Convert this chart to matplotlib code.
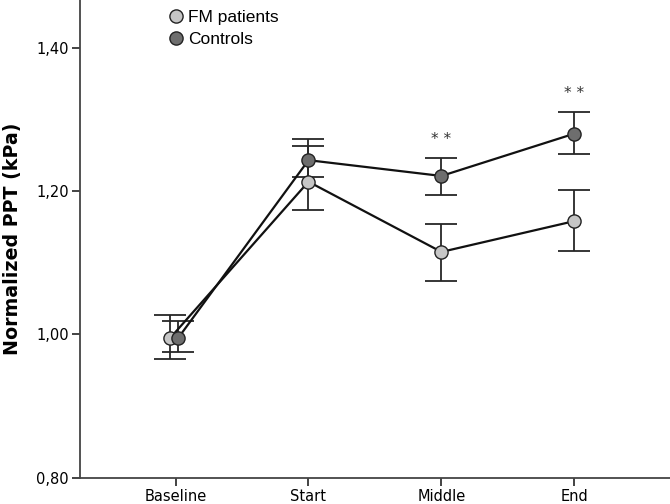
import matplotlib
matplotlib.use("Agg")
import matplotlib.pyplot as plt
from matplotlib.lines import Line2D
import numpy as np

categories = ["Baseline", "Start", "Middle", "End"]
fm_mean = [0.995, 1.213, 1.115, 1.158]
fm_low = [0.965, 1.174, 1.075, 1.116]
fm_high = [1.027, 1.263, 1.154, 1.202]
ctrl_mean = [0.995, 1.243, 1.221, 1.280]
ctrl_low = [0.976, 1.219, 1.194, 1.251]
ctrl_high = [1.019, 1.273, 1.246, 1.310]
signif = ["", "", "* *", "* *"]
yticks = [0.80, 1.00, 1.20, 1.40]
ytick_labels = ["0,80", "1,00", "1,20", "1,40"]

fig = plt.figure(figsize=(6.7, 5.04), dpi=100)
ax = fig.add_axes([80/670, 1-477.7/504, 1-80/670, 477.7/504])

x = np.arange(len(categories), dtype=float)
x_fm = x.copy(); x_fm[0] -= 0.04
x_ct = x.copy(); x_ct[0] += 0.02

ecol = "#262626"
for xs, m, lo, hi, fc in [(x_fm, fm_mean, fm_low, fm_high, "#c6c6c6"),
                          (x_ct, ctrl_mean, ctrl_low, ctrl_high, "#6e6e6e")]:
    m = np.array(m); lo = np.array(lo); hi = np.array(hi)
    ax.errorbar(xs, m, yerr=[m - lo, hi - m], fmt="none", ecolor=ecol,
                elinewidth=1.3, capsize=11.5, capthick=1.3, zorder=2)
    ax.plot(xs, m, color="#111111", lw=1.6, zorder=3)
    ax.plot(xs, m, "o", ms=9.5, mfc=fc, mec="#222222", mew=1.0, zorder=4)

for xi, s, hi in zip(x, signif, ctrl_high):
    if s:
        ax.text(xi, hi + 0.026, s, ha="center", va="center", fontsize=11,
                color="#333333", family="DejaVu Sans")

ax.set_xlim(-0.719, 3.72)
ax.set_ylim(0.8, 1.4665)
ax.set_xticks(x)
ax.set_xticklabels(categories, fontsize=10.5, family="DejaVu Sans")
ax.set_yticks(yticks)
ax.set_yticklabels(ytick_labels, fontsize=10.5, family="DejaVu Sans")
for s in ["top", "right"]:
    ax.spines[s].set_visible(False)
for s in ["left", "bottom"]:
    ax.spines[s].set_color("#444444")
    ax.spines[s].set_linewidth(1.3)
ax.tick_params(axis="both", length=6, width=1.2, color="#222222", pad=2)
ax.set_ylabel("Normalized PPT (kPa)", fontsize=13.7, fontweight="bold",
              family="DejaVu Sans", labelpad=10)

handles = [Line2D([], [], ls="none", marker="o", ms=9.5, mfc="#c6c6c6", mec="#222222", mew=1.0),
           Line2D([], [], ls="none", marker="o", ms=9.5, mfc="#6e6e6e", mec="#222222", mew=1.0)]
fig.legend(handles, ["FM patients", "Controls"], loc="upper left",
           bbox_to_anchor=(153/670, 1 + 2/504), frameon=False,
           prop={"family": "Liberation Sans", "size": 12.5},
           handletextpad=0.1, labelspacing=0.38, borderpad=0.2, handlelength=1.2)

fig.savefig("out.png", dpi=100)
